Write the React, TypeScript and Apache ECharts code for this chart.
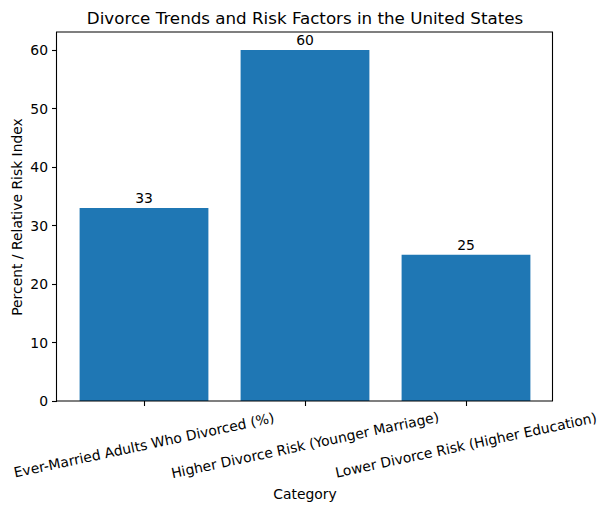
import React, { useEffect, useRef } from "react";
import * as echarts from "echarts";

const categories = [
  "Ever-Married Adults Who Divorced (%)",
  "Higher Divorce Risk (Younger Marriage)",
  "Lower Divorce Risk (Higher Education)",
];
const values = [33, 60, 25];
const yTicks = [0, 10, 20, 30, 40, 50, 60];
const titleText = "Divorce Trends and Risk Factors in the United States";
const xTitle = "Category";
const yTitle = "Percent / Relative Risk Index";

const FONT = "DejaVu Sans";

export default function App() {
  const ref = useRef<HTMLDivElement>(null);
  useEffect(() => {
    if (!ref.current) return;
    const chart = echarts.init(ref.current, null, { renderer: "svg" });
    chart.setOption({
      animation: false,
      textStyle: { fontFamily: FONT },
      grid: { left: 63.5, right: 608 - 546.5, top: 32.5, bottom: 110, containLabel: false },
      xAxis: {
        type: "category",
        data: categories,
        axisLine: { show: false },
        axisTick: { show: true, alignWithLabel: true, length: 5, lineStyle: { color: "#000", width: 1.1 } },
        axisLabel: {
          rotate: 12,
          align: "center",
          verticalAlign: "middle",
          margin: 44,
          color: "#000",
          fontSize: 13.9,
          fontFamily: FONT,
          interval: 0,
        },
      },
      yAxis: {
        type: "value",
        min: 0,
        max: 63,
        offset: 6.5,
        splitLine: { show: false },
        axisLine: { show: false },
        axisTick: { show: true, length: 5, customValues: yTicks, lineStyle: { color: "#000", width: 1.1 } },
        axisLabel: { customValues: yTicks, color: "#000", fontSize: 13.9, fontFamily: FONT, margin: 9 },
      },
      series: [
        {
          type: "bar",
          data: values,
          barWidth: "80%",
          itemStyle: { color: "#1f77b4" },
          label: { show: true, position: "top", distance: 3, color: "#000", fontSize: 13.9, fontFamily: FONT },
        },
      ],
      graphic: [
        {
          type: "rect",
          shape: { x: 56.5, y: 32, width: 496, height: 369 },
          style: { fill: "none", stroke: "#000", lineWidth: 1.1 },
          z: 100,
        },
        {
          type: "text",
          x: 305,
          y: 18,
          style: { text: titleText, font: `16.7px "${FONT}"`, fill: "#000", align: "center", verticalAlign: "middle" },
        },
        {
          type: "text",
          x: 305,
          y: 494,
          style: { text: xTitle, font: `13.9px "${FONT}"`, fill: "#000", align: "center", verticalAlign: "middle" },
        },
        {
          type: "text",
          x: 17,
          y: 217,
          rotation: Math.PI / 2,
          style: { text: yTitle, font: `13.9px "${FONT}"`, fill: "#000", align: "center", verticalAlign: "middle" },
        },
      ],
    });
    return () => chart.dispose();
  }, []);
  return <div ref={ref} style={{ width: 608, height: 511, position: "absolute", left: 0, top: 0 }} />;
}
